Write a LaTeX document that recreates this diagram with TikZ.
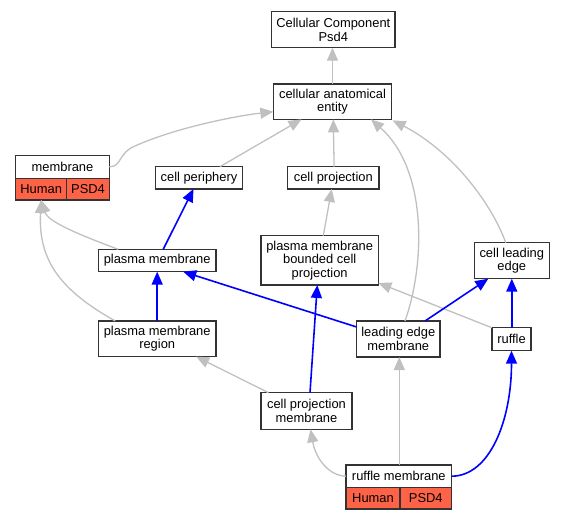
\documentclass[tikz,border=0pt]{standalone}
\usepackage{fontspec}
\setmainfont{Liberation Sans}
\usetikzlibrary{arrows.meta}
\definecolor{edgegray}{HTML}{C0C0C0}
\definecolor{tomatored}{HTML}{FF6347}
\definecolor{boxline}{HTML}{333333}
\begin{document}
\begin{tikzpicture}[x=1pt,y=-1pt,
  box/.style={draw=boxline, line width=1.4pt, fill=white, inner sep=0pt, outer sep=0pt,
    align=center, font=\fontsize{12.9}{13.5}\selectfont, text=black},
  redbox/.style={box, fill=tomatored},
  gedge/.style={draw=edgegray, line width=1.3pt, -{Triangle[length=13pt,width=11pt,fill=edgegray]}},
  bedge/.style={draw=blue, line width=1.6pt, -{Triangle[length=13pt,width=11pt,fill=blue]}}
]
\useasboundingbox (0,0) rectangle (565,520);

% nodes
\node[box, minimum width=123.3pt, minimum height=36pt] (ccp) at (333.3,29.7) {Cellular Component\\Psd4};
\node[box, minimum width=118.3pt, minimum height=35.3pt] (cae) at (332.5,101.7) {cellular anatomical\\entity};
\node[box, minimum width=93.6pt, minimum height=23pt] (memtop) at (62.5,166.8) {membrane};
\node[redbox, minimum width=51pt, minimum height=21.7pt] (memh) at (41.2,189.2) {Human};
\node[redbox, minimum width=42.6pt, minimum height=21.7pt] (memp) at (88,189.2) {PSD4};
\node[box, minimum width=86.6pt, minimum height=22.3pt] (cp) at (199,177.8) {cell periphery};
\node[box, minimum width=91.3pt, minimum height=22.3pt] (cproj) at (333.3,177.8) {cell projection};
\node[box, minimum width=117.7pt, minimum height=22.4pt] (pm) at (157.2,260.5) {plasma membrane};
\node[box, minimum width=117.3pt, minimum height=49.3pt] (pmbcp) at (319.7,260.3) {plasma membrane\\bounded cell\\projection};
\node[box, minimum width=75pt, minimum height=36pt] (cle) at (511.8,260.7) {cell leading\\edge};
\node[box, minimum width=117.7pt, minimum height=35.7pt] (pmr) at (157.2,338.8) {plasma membrane\\region};
\node[box, minimum width=83.3pt, minimum height=36pt] (lem) at (398.3,339) {leading edge\\membrane};
\node[box, minimum width=39.3pt, minimum height=23pt] (ruffle) at (511.5,339.2) {ruffle};
\node[box, minimum width=91pt, minimum height=36.6pt] (cpm) at (306.5,411) {cell projection\\membrane};
\node[box, minimum width=105.7pt, minimum height=22.3pt] (rmtop) at (398.8,476.2) {ruffle membrane};
\node[redbox, minimum width=54pt, minimum height=21.7pt] (rmh) at (373,498.2) {Human};
\node[redbox, minimum width=51.7pt, minimum height=21.7pt] (rmp) at (425.8,498.2) {PSD4};

% gray edges
\draw[gedge] (cae.north) -- (cae.north |- ccp.south);
\draw[gedge] (memtop.east) .. controls (122,166.8) and (118,153) .. (135,146)
  .. controls (175,128) and (235,116) .. ([yshift=-10pt]cae.west);
\draw[gedge] ([xshift=21pt]cp.north) -- ([xshift=-31pt]cae.south);
\draw[gedge] ([xshift=0.8pt]cproj.north) -- ([xshift=0.8pt]cae.south);
\draw[gedge] ([xshift=6.7pt]lem.north) .. controls (425,265) and (428,170) .. ([xshift=38.5pt]cae.south);
\draw[gedge] ([xshift=-6pt]cle.north) .. controls (490,200) and (450,150) .. ([xshift=1pt,yshift=-1pt]cae.south east);
\draw[gedge] ([xshift=3.6pt]pmbcp.north) -- ([xshift=-1.6pt]cproj.south);
\draw[gedge] ([xshift=-39pt]pm.north) .. controls (80,235) and (48,222) .. (memh.south);
\draw[gedge] ([xshift=-42pt]pmr.north) .. controls (60,290) and (38,260) .. (memh.south);
\draw[gedge] (ruffle.north west) -- ([yshift=2pt]pmbcp.south east);
\draw[gedge] ([xshift=-38pt]cpm.north) -- ([xshift=39pt]pmr.south);
\draw[gedge] ([xshift=0.5pt]rmtop.north) -- ([xshift=0.5pt]rmtop.north |- lem.south);
\draw[gedge] (rmtop.west) .. controls (330,476) and (316,460) .. ([xshift=4pt]cpm.south);

% blue edges
\draw[bedge] ([xshift=6pt]pm.north) -- ([xshift=-5.5pt]cp.south);
\draw[bedge] (pmr.north) -- (pm.south);
\draw[bedge] ([yshift=12pt]lem.west) -- ([xshift=26pt]pm.south);
\draw[bedge] ([xshift=3.5pt]cpm.north) -- ([xshift=-2.4pt]pmbcp.south);
\draw[bedge] ([xshift=26.7pt]lem.north) -- ([xshift=-23.5pt]cle.south);
\draw[bedge] ([xshift=0.3pt]ruffle.north) -- ([xshift=0.3pt]ruffle.north |- cle.south);
\draw[bedge] (rmtop.east) .. controls (490,476) and (511.5,420) .. (ruffle.south);
\end{tikzpicture}
\end{document}
